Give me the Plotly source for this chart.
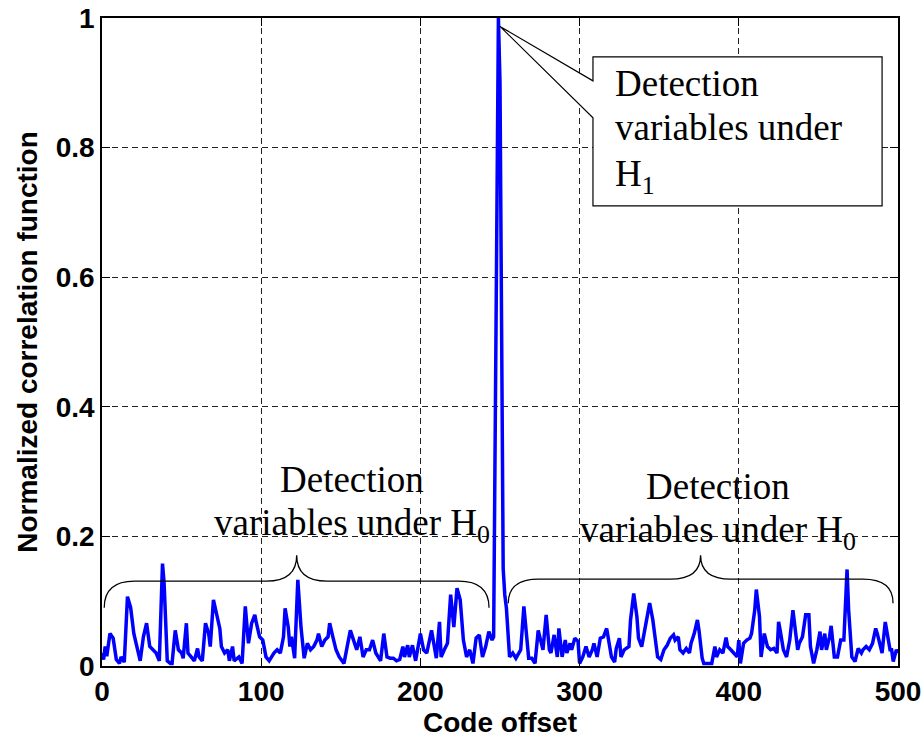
import plotly.graph_objects as go

# Code offset samples and normalized correlation values
code_offset = [
    0, 1, 2, 3, 5, 7, 9, 11, 12, 14, 16, 18, 20, 22, 24, 26, 28, 30, 32, 34,
    36, 38, 39, 41, 43, 44, 46, 48, 50, 51, 53, 54, 56, 58, 60, 61, 63, 65, 67, 68,
    70, 72, 74, 75, 77, 79, 80, 82, 83, 86, 88, 90, 92, 94, 96, 97, 99, 101, 103, 105,
    108, 110, 112, 114, 115, 117, 118, 119, 121, 123, 124, 125, 127, 129, 131, 133, 135, 136, 138, 140,
    142, 143, 145, 147, 149, 152, 154, 156, 158, 160, 162, 164, 166, 168, 170, 172, 175, 177, 179, 181,
    183, 185, 187, 189, 190, 192, 193, 195, 197, 199, 200, 202, 204, 207, 209, 210, 212, 213, 215, 217,
    219, 221, 223, 225, 227, 229, 231, 233, 235, 237, 239, 241, 243, 245, 246, 247, 248, 249, 250, 251,
    252, 253, 254, 256, 258, 260, 263, 265, 266, 268, 270, 272, 274, 275, 277, 279, 281, 282, 284, 286,
    287, 289, 291, 292, 294, 295, 297, 299, 300, 302, 304, 306, 308, 309, 311, 313, 315, 317, 319, 320,
    322, 323, 325, 326, 328, 331, 332, 334, 336, 337, 339, 341, 343, 344, 346, 348, 349, 351, 353, 355,
    357, 359, 360, 362, 363, 365, 367, 369, 370, 372, 374, 375, 377, 378, 380, 383, 385, 386, 388, 390,
    392, 393, 395, 397, 399, 400, 401, 403, 405, 407, 408, 410, 411, 413, 414, 416, 418, 420, 422, 424,
    425, 426, 428, 430, 432, 434, 435, 437, 438, 440, 442, 444, 445, 447, 449, 451, 452, 454, 455, 457,
    458, 460, 462, 464, 466, 467, 468, 469, 471, 473, 475, 477, 478, 480, 482, 484, 486, 487, 489, 490,
    492, 493, 495, 496, 497, 499, 500,
]
correlation = [
    0.02, 0.01, 0.03, 0.015, 0.05, 0.043, 0.01, 0.004, 0.014, 0.006, 0.107, 0.09, 0.05, 0.03, 0.008, 0.045, 0.066, 0.03, 0.025, 0.02,
    0.008, 0.158, 0.128, 0.008, 0.004, 0.004, 0.055, 0.025, 0.02, 0.012, 0.066, 0.02, 0.014, 0.008, 0.027, 0.014, 0.008, 0.066, 0.05, 0.03,
    0.102, 0.081, 0.058, 0.03, 0.02, 0.025, 0.008, 0.03, 0.008, 0.014, 0.004, 0.092, 0.035, 0.066, 0.079, 0.066, 0.045, 0.04, 0.014, 0.008,
    0.02, 0.025, 0.02, 0.045, 0.089, 0.06, 0.03, 0.045, 0.012, 0.133, 0.086, 0.06, 0.012, 0.035, 0.025, 0.03, 0.04, 0.05, 0.03, 0.04,
    0.045, 0.066, 0.045, 0.025, 0.014, 0.004, 0.03, 0.055, 0.04, 0.025, 0.045, 0.014, 0.025, 0.025, 0.04, 0.02, 0.008, 0.05, 0.014, 0.012,
    0.012, 0.008, 0.01, 0.03, 0.014, 0.032, 0.014, 0.032, 0.008, 0.04, 0.05, 0.025, 0.02, 0.055, 0.02, 0.012, 0.068, 0.014, 0.025, 0.035,
    0.11, 0.06, 0.12, 0.102, 0.04, 0.014, 0.025, 0.004, 0.043, 0.048, 0.014, 0.03, 0.053, 0.04, 0.045, 0.35, 0.72, 1.0, 0.9, 0.6,
    0.15, 0.11, 0.09, 0.014, 0.02, 0.012, 0.025, 0.092, 0.06, 0.012, 0.012, 0.004, 0.055, 0.045, 0.025, 0.079, 0.025, 0.02, 0.048, 0.014,
    0.058, 0.014, 0.04, 0.02, 0.035, 0.025, 0.043, 0.038, 0.004, 0.014, 0.03, 0.014, 0.025, 0.035, 0.014, 0.043, 0.045, 0.058, 0.025, 0.014,
    0.006, 0.027, 0.043, 0.014, 0.025, 0.03, 0.071, 0.112, 0.076, 0.043, 0.03, 0.055, 0.086, 0.097, 0.071, 0.025, 0.014, 0.01, 0.025, 0.032,
    0.043, 0.048, 0.04, 0.045, 0.025, 0.02, 0.027, 0.02, 0.035, 0.05, 0.071, 0.055, 0.012, 0.004, 0.004, 0.004, 0.03, 0.014, 0.025, 0.02,
    0.044, 0.03, 0.025, 0.02, 0.014, 0.04, 0.004, 0.035, 0.04, 0.043, 0.05, 0.086, 0.118, 0.076, 0.014, 0.05, 0.03, 0.025, 0.027, 0.02,
    0.068, 0.055, 0.025, 0.014, 0.04, 0.086, 0.066, 0.025, 0.035, 0.045, 0.079, 0.079, 0.03, 0.004, 0.025, 0.053, 0.025, 0.05, 0.025, 0.045,
    0.062, 0.014, 0.014, 0.04, 0.04, 0.086, 0.149, 0.086, 0.014, 0.007, 0.027, 0.02, 0.025, 0.03, 0.025, 0.035, 0.058, 0.05, 0.03, 0.02,
    0.068, 0.055, 0.025, 0.025, 0.007, 0.025, 0.02,
]

x_ticks = [0, 100, 200, 300, 400, 500]
y_ticks = [0, 0.2, 0.4, 0.6, 0.8, 1]
x_title = "Code offset"
y_title = "Normalized correlation function"
h1_lines = ["Detection", "variables under", "H<sub>1</sub>"]
h0_lines = ["Detection", "variables under H<sub>0</sub>"]

fig = go.Figure()
fig.add_trace(go.Scatter(
    x=code_offset, y=correlation, mode="lines",
    line=dict(color="#0000FF", width=3.5), showlegend=False,
))

serif = "Liberation Serif, Times New Roman, serif"
sans_bold = dict(family="Liberation Sans, Arial, sans-serif", size=28, color="black", weight="bold")

# Callout box for H1
fig.add_shape(
    type="path", xref="x", yref="y",
    path="M 308.4,0.94 L 490,0.94 L 490,0.71 L 308.4,0.71 L 308.4,0.846 L 250,0.987 L 308.4,0.903 Z",
    line=dict(color="black", width=1.2), fillcolor="white", layer="above",
)
for txt, yy in zip(h1_lines, [0.934, 0.865, 0.795]):
    fig.add_annotation(x=321, y=yy, xref="x", yref="y", text=txt, showarrow=False,
                       xanchor="left", yanchor="top", font=dict(family=serif, size=37, color="black"))

# Curly braces
def brace(x0, x1, xm, yend, yflat, ytip, r):
    return (f"M {x0},{yend} Q {x0},{yflat} {x0 + r},{yflat} L {xm - r},{yflat} "
            f"Q {xm},{yflat} {xm},{ytip} Q {xm},{yflat} {xm + r},{yflat} "
            f"L {x1 - r},{yflat} Q {x1},{yflat} {x1},{yend}")

fig.add_shape(type="path", xref="x", yref="y",
              path=brace(1.4, 243.1, 122.3, 0.09, 0.131, 0.171, 19),
              line=dict(color="black", width=1.3), layer="above")
fig.add_shape(type="path", xref="x", yref="y",
              path=brace(255.2, 496.9, 376.0, 0.097, 0.134, 0.171, 19),
              line=dict(color="black", width=1.3), layer="above")

for cx, ys in [(157.3, [0.3225, 0.256]), (386.9, [0.3117, 0.2454])]:
    for txt, yy in zip(h0_lines, ys):
        fig.add_annotation(x=cx, y=yy, xref="x", yref="y", text=txt, showarrow=False,
                           xanchor="center", yanchor="top",
                           font=dict(family=serif, size=37, color="black"))

axis_common = dict(
    showline=True, linecolor="black", linewidth=1.5, mirror="allticks",
    ticks="inside", ticklen=8, tickcolor="black", tickwidth=1.2,
    showgrid=True, gridcolor="#222222", gridwidth=1, griddash="6px,4px",
    zeroline=False, tickfont=sans_bold, automargin=False, ticklabeloverflow="allow",
)
fig.update_xaxes(range=[0, 500], tickvals=x_ticks, ticktext=[str(v) for v in x_ticks],
                 title=dict(text=x_title, font=sans_bold, standoff=0), **axis_common)
fig.update_yaxes(range=[0, 1], tickvals=y_ticks, ticktext=["0", "0.2", "0.4", "0.6", "0.8", "1"],
                 title=dict(text=y_title, font=sans_bold, standoff=10), **axis_common)

fig.update_layout(
    width=924, height=740,
    margin=dict(l=102, r=26, t=18, b=74),
    plot_bgcolor="white", paper_bgcolor="white",
)
# remove the default page margin so the 924x740 figure fills the window exactly
fig.write_html(
    "out.html",
    config={"displayModeBar": False},
    post_script="document.body.style.margin='0';document.body.style.overflow='hidden';",
)
